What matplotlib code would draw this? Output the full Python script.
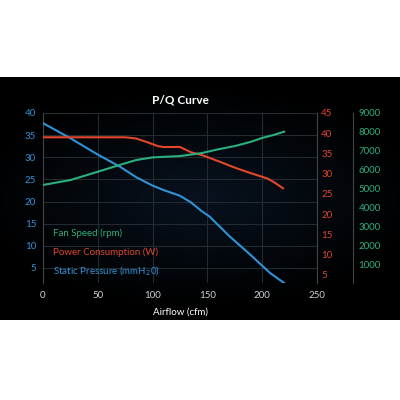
import matplotlib
matplotlib.use("Agg")
import matplotlib.pyplot as plt
import numpy as np

plt.rcParams['font.family'] = ['Lato', 'DejaVu Sans']

# static pressure (left axis, mmH2O)
sp_x = [0, 25, 50, 70, 85, 100, 110, 125, 135, 145, 152, 170, 190, 207, 220]
sp_y = [37.7, 34.3, 30.6, 27.9, 25.5, 23.6, 22.6, 21.3, 19.8, 17.8, 16.6, 12.2, 7.8, 3.9, 1.6]

# power consumption (red axis, W)
pw_x = [0, 75, 85, 95, 105, 110, 125, 135, 145, 160, 175, 190, 205, 212, 219]
pw_y = [39.0, 39.0, 38.7, 37.8, 36.8, 36.6, 36.6, 35.3, 34.6, 33.1, 31.5, 30.1, 28.8, 27.7, 26.4]

# fan speed (green axis, rpm)
fs_x = [0, 25, 50, 70, 85, 100, 125, 145, 160, 175, 190, 200, 210, 220]
fs_y = [5190, 5450, 5890, 6250, 6510, 6650, 6720, 6880, 7080, 7250, 7480, 7680, 7830, 8010]

x_ticks = [0, 50, 100, 150, 200, 250]
left_ticks = [5, 10, 15, 20, 25, 30, 35, 40]
red_ticks = [5, 10, 15, 20, 25, 30, 35, 40, 45]
green_ticks = [1000, 2000, 3000, 4000, 5000, 6000, 7000, 8000, 9000]

blue = '#2f93d6'
red = '#e2472e'
green = '#2caf7c'

fig = plt.figure(figsize=(4, 4), dpi=100)
fig.patch.set_facecolor('white')

# black panel with a faint bluish glow in the middle
bg = fig.add_axes([0.0, 0.2, 1.0, 0.6075], zorder=0)
gx, gy = np.meshgrid(np.linspace(-1, 1, 200), np.linspace(-1, 1, 120))
r = np.sqrt((gx * 0.9) ** 2 + (gy * 1.1) ** 2)
glow = np.clip(1 - r, 0, 1)
img = np.zeros((120, 200, 3))
img[..., 0] = 0.03 * glow
img[..., 1] = 0.07 * glow
img[..., 2] = 0.12 * glow
bg.imshow(img, aspect='auto', extent=[0, 1, 0, 1])
bg.set_axis_off()

ax = fig.add_axes([0.1075, 0.2925, 0.685, 0.425], zorder=1)
ax.set_facecolor('none')
ax.plot(sp_x, sp_y, color=blue, lw=1.5, zorder=3)
ax.set_xlim(0, 250)
ax.set_ylim(1.6, 40)
ax.set_xticks(x_ticks)
ax.set_yticks(left_ticks)
ax.grid(True, color='#232a30', lw=0.8)
ax.tick_params(axis='x', colors='#d0d0d0', labelsize=7, length=0, pad=6)
ax.tick_params(axis='y', colors=blue, labelsize=7, length=0, pad=5)
for s in ['top', 'right', 'bottom']:
    ax.spines[s].set_visible(False)
ax.spines['left'].set_color('#444444')
ax.set_xlabel('Airflow (cfm)', color='white', fontsize=7, labelpad=5)
ax.set_title('P/Q Curve', color='white', fontsize=8.5, fontweight='bold', pad=7)

ax_r = ax.twinx()
ax_r.plot(pw_x, pw_y, color=red, lw=1.5, zorder=3)
ax_r.set_ylim(3, 45)
ax_r.set_yticks(red_ticks)
ax_r.tick_params(axis='y', colors=red, labelsize=7, length=0, pad=3)
for s in ['top', 'left', 'bottom']:
    ax_r.spines[s].set_visible(False)
ax_r.spines['right'].set_color('#444444')

ax_g = ax.twinx()
ax_g.plot(fs_x, fs_y, color=green, lw=1.5, zorder=3)
ax_g.set_ylim(0, 9000)
ax_g.set_yticks(green_ticks)
ax_g.spines['right'].set_position(('outward', 26))
ax_g.tick_params(axis='y', colors=green, labelsize=7, length=0, pad=4)
for s in ['top', 'left', 'bottom']:
    ax_g.spines[s].set_visible(False)
ax_g.spines['right'].set_color('#444444')

# inline legend
ax.text(9.5, 12.9, 'Fan Speed (rpm)', color=green, fontsize=7, va='center')
ax.text(9.5, 8.6, 'Power Consumption (W)', color=red, fontsize=7, va='center')
ax.text(9.5, 4.3, 'Static Pressure (mmH$_2$0)', color=blue, fontsize=7, va='center')

plt.savefig('out.png', dpi=100, facecolor=fig.get_facecolor())
